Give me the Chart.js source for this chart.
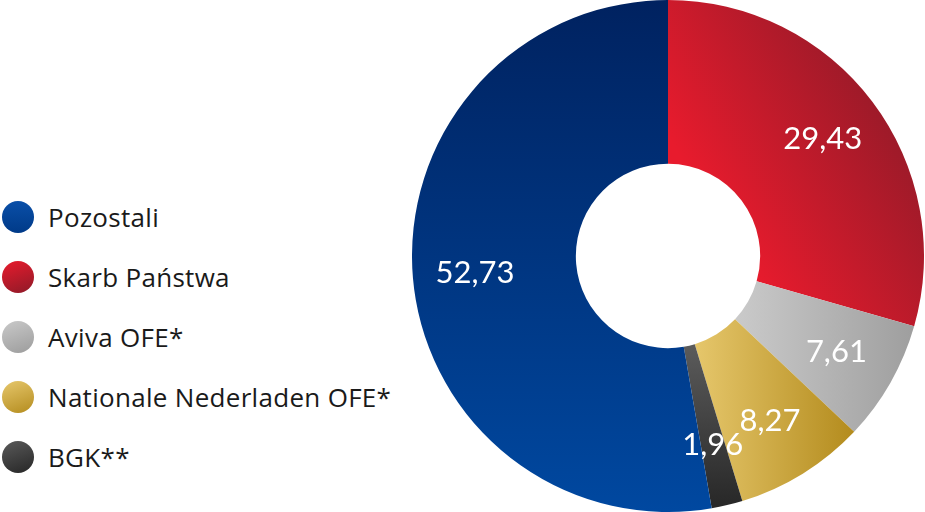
<!DOCTYPE html>
<html>
<head>
<meta charset="utf-8">
<script src="https://cdn.jsdelivr.net/npm/chart.js@4"></script>
<style>
  html, body { margin: 0; padding: 0; background: #fff; }
  body { width: 925px; height: 512px; position: relative; overflow: hidden; }
  #legend { position: absolute; left: 2px; top: 201px; font-family: "Open Sans", sans-serif; font-size: 26px; letter-spacing: 0.3px; color: #1a1a1a; }
  #legend .item { height: 60px; display: flex; align-items: flex-start; }
  #legend .dot { width: 32px; height: 32px; border-radius: 50%; margin-right: 14px; flex: none; }
  #legend .txt { line-height: 32px; }
  #wrap { position: absolute; left: 412px; top: 0; width: 512px; height: 512px; }
</style>
</head>
<body>
<div id="legend"></div>
<div id="wrap"><canvas id="mycanvas"></canvas></div>
<script>
// shareholders, in the order the ring is drawn (clockwise from 12 o'clock)
var names = ["Skarb Państwa", "Aviva OFE*", "Nationale Nederladen OFE*", "BGK**", "Pozostali"];
var shares = [29.43, 7.61, 8.27, 1.96, 52.73];
// legend shows them in a different order
var legendOrder = ["Pozostali", "Skarb Państwa", "Aviva OFE*", "Nationale Nederladen OFE*", "BGK**"];

// gradient stops per slice: [light, dark]
var colorsLight = ["#e81b2d", "#c9c9c9", "#e6c76c", "#5a5a5a", "#0048a0"];
var colorsDark = ["#8e1a28", "#9c9c9c", "#b48c1e", "#262626", "#002260"];

function sliceGradient(ctx, area, i) {
    var g;
    if (i == 0) { // red: bright on the left, dark towards top-right
        g = ctx.createLinearGradient(area.left + area.width * 0.5, area.top + area.height * 0.39, area.left + area.width * 0.95, area.top + area.height * 0.12);
        g.addColorStop(0.12, colorsLight[i]);
        g.addColorStop(1, colorsDark[i]);
        return g;
    } else if (i == 4) { // blue: top dark to bottom lighter
        g = ctx.createLinearGradient(0, area.bottom, 0, area.top);
    } else if (i == 3) {
        g = ctx.createLinearGradient(0, area.top + area.height * 0.68, 0, area.bottom);
    } else { // grey & gold: left light to right dark
        var x0 = i == 1 ? area.left + area.width * 0.64 : area.left + area.width * 0.55;
        var x1 = i == 1 ? area.right : area.left + area.width * 0.86;
        g = ctx.createLinearGradient(x0, 0, x1, 0);
    }
    g.addColorStop(0, colorsLight[i]);
    g.addColorStop(1, colorsDark[i]);
    return g;
}

// white value labels inside the ring
var valueLabels = {
    id: 'valueLabels',
    afterDatasetsDraw: function(chart) {
        var ctx = chart.ctx;
        var meta = chart.getDatasetMeta(0);
        ctx.save();
        ctx.fillStyle = "#fff";
        ctx.font = "31px Lato, sans-serif";
        ctx.textAlign = "center";
        ctx.textBaseline = "middle";
        meta.data.forEach(function(arc, i) {
            var p = arc.getProps(['x', 'y', 'startAngle', 'endAngle', 'innerRadius', 'outerRadius']);
            var a = (p.startAngle + p.endAngle) / 2;
            var r = p.innerRadius + (p.outerRadius - p.innerRadius) * 0.62;
            var txt = shares[i].toFixed(2).replace(".", ",");
            ctx.fillText(txt, p.x + Math.cos(a) * r, p.y + Math.sin(a) * r);
        });
        ctx.restore();
    }
};

var chartdata = {
    labels: names,
    datasets: [
        {
            data: shares,
            borderWidth: 0,
            backgroundColor: function(c) {
                var area = c.chart.chartArea;
                if (!area) return colorsLight[c.dataIndex];
                return sliceGradient(c.chart.ctx, area, c.dataIndex);
            }
        }
    ]
};

var ctx = document.getElementById("mycanvas");

var DoughnutChart = new Chart(ctx, {
    type: 'doughnut',
    data: chartdata,
    options: {
        responsive: true,
        maintainAspectRatio: false,
        animation: false,
        cutout: '36%',
        layout: { padding: 0 },
        plugins: {
            legend: { display: false },
            tooltip: { enabled: false }
        }
    },
    plugins: [valueLabels]
});

// html legend
var legend = document.getElementById("legend");
legendOrder.forEach(function(name) {
    var i = names.indexOf(name);
    var item = document.createElement("div");
    item.className = "item";
    var dot = document.createElement("div");
    dot.className = "dot";
    dot.style.background = "linear-gradient(160deg, " + colorsLight[i] + ", " + colorsDark[i] + ")";
    if (i == 4) dot.style.background = "linear-gradient(180deg, #0a4fa8, #003a88)";
    var txt = document.createElement("div");
    txt.className = "txt";
    txt.textContent = name;
    item.appendChild(dot);
    item.appendChild(txt);
    legend.appendChild(item);
});
</script>
</body>
</html>
